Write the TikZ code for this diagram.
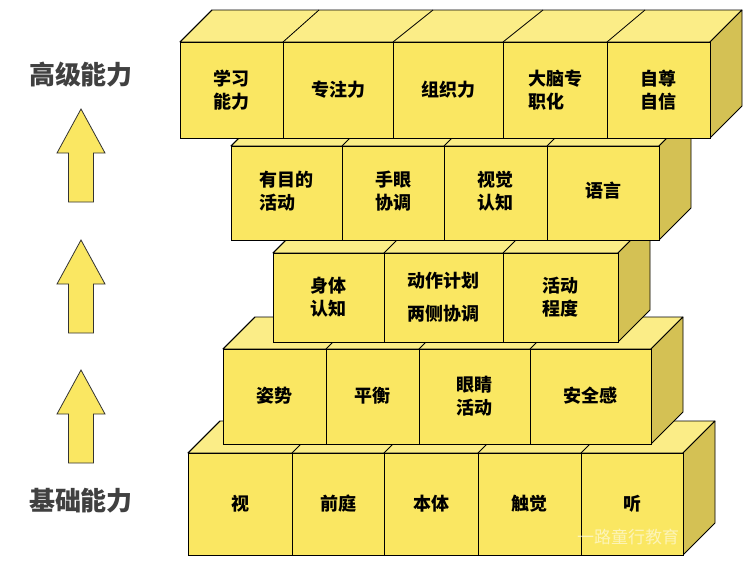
\documentclass[tikz,border=0pt]{standalone}
\usepackage{fontspec}
\setmainfont{Noto Sans CJK SC}
\usetikzlibrary{calc}

\definecolor{boxfront}{RGB}{250,231,98}
\definecolor{boxtop}{RGB}{251,237,135}
\definecolor{boxside}{RGB}{212,193,84}
\definecolor{labelgray}{RGB}{64,64,64}

\begin{document}
\begin{tikzpicture}[x=1pt, y=-1pt,
  facefront/.style={fill=boxfront, draw=black, line width=0.8pt},
  facetop/.style={fill=boxtop, draw=black, line width=0.8pt, line join=round},
  faceside/.style={fill=boxside, draw=black, line width=0.8pt, line join=round},
  divline/.style={draw=black, line width=0.8pt},
  celltext/.style={font=\fontsize{18}{23}\selectfont\bfseries, align=left, text=black},
  sidetext/.style={font=\fontsize{26}{30}\selectfont\bfseries, text=labelgray},
  uparrow/.style={fill=boxfront, draw=black!80, line width=0.8pt}]

\useasboundingbox (0,0) rectangle (748,565);
\fill[white] (0,0) rectangle (748,565);

% === LEFT: LEVELS ===
\node[sidetext] (high) at (81,75) {高级能力};
\node[sidetext] (base) at (81,501) {基础能力};
\foreach \t in {109,240,370} {
  \draw[uparrow] (81,\t) -- (105,\t+44) -- (93.5,\t+44) -- (93.5,\t+93) -- (68.5,\t+93) -- (68.5,\t+44) -- (57,\t+44) -- cycle;
}

% === ROW 5: SENSES ===
\draw[facetop] (188,453) -- (220,421) -- (715,421) -- (683,453) -- cycle;
\draw[faceside] (683,453) -- (715,421) -- (715,523) -- (683,555) -- cycle;
\foreach \xa/\xb/\txt [count=\i] in {188/292/视, 292/384/前庭, 384/478/本体, 478/581/触觉, 581/683/听} {
  \draw[facefront] (\xa,453) rectangle (\xb,555);
  \draw[divline] (\xa,453) -- ++(32,-32);
  \node[celltext] (e\i) at ({(\xa+\xb)/2},504) {\txt};
}

% === ROW 4 ===
\draw[facetop] (223,349) -- (255,317) -- (683,317) -- (651,349) -- cycle;
\draw[faceside] (651,349) -- (683,317) -- (683,412) -- (651,444) -- cycle;
\foreach \xa/\xb/\txt [count=\i] in {223/326/姿势, 326/419/平衡, 419/530/眼睛\\活动, 530/651/安全感} {
  \draw[facefront] (\xa,349) rectangle (\xb,444);
  \draw[divline] (\xa,349) -- ++(32,-32);
  \node[celltext] (d\i) at ({(\xa+\xb)/2},396) {\txt};
}

% === ROW 3 ===
\draw[facetop] (273,253) -- (305,221) -- (650,221) -- (618,253) -- cycle;
\draw[faceside] (618,253) -- (650,221) -- (650,310) -- (618,342) -- cycle;
\foreach \xa/\xb/\txt [count=\i] in {273/384/身体\\认知, 384/503/动作计划\\[10pt]两侧协调, 503/618/活动\\程度} {
  \draw[facefront] (\xa,253) rectangle (\xb,342);
  \draw[divline] (\xa,253) -- ++(32,-32);
  \node[celltext] (c\i) at ({(\xa+\xb)/2},297) {\txt};
}

% === ROW 2 ===
\draw[facetop] (231,146) -- (263,114) -- (691,114) -- (659,146) -- cycle;
\draw[faceside] (659,146) -- (691,114) -- (691,208) -- (659,240) -- cycle;
\foreach \xa/\xb/\txt [count=\i] in {231/342/有目的\\活动, 342/444/手眼\\协调, 444/547/视觉\\认知, 547/659/语言} {
  \draw[facefront] (\xa,146) rectangle (\xb,240);
  \draw[divline] (\xa,146) -- ++(32,-32);
  \node[celltext] (b\i) at ({(\xa+\xb)/2},191) {\txt};
}

% === ROW 1: HIGHER ===
\draw[facetop] (180,42) -- (212,10) -- (742,10) -- (710,42) -- cycle;
\draw[faceside] (710,42) -- (742,10) -- (742,106) -- (710,138) -- cycle;
\foreach \xa/\xb/\txt/\s [count=\i] in {180/283/学习\\能力/32, 283/393/专注力/36, 393/503/组织力/40, 503/607/大脑专\\职化/40, 607/710/自尊\\自信/38} {
  \draw[facefront] (\xa,42) rectangle (\xb,138);
  \draw[divline] (\xa,42) -- ++(\s,-32);
  \node[celltext] (a\i) at ({(\xa+\xb)/2},90) {\txt};
}

% watermark
\node[font=\fontsize{17}{20}\selectfont, text=white, opacity=0.55] (mark) at (628,537) {一路童行教育};

\end{tikzpicture}
\end{document}
